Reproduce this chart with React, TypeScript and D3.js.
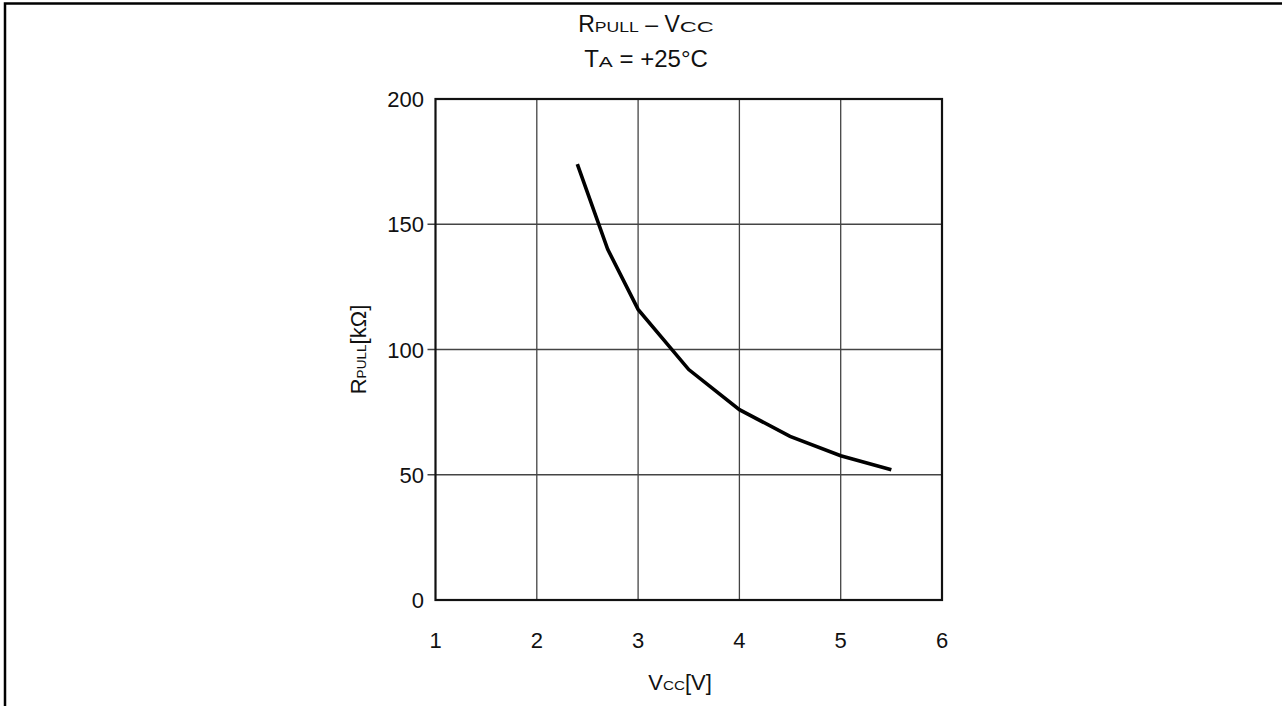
import React from "react";
import * as d3 from "d3";

const vcc = [2.4, 2.7, 3.0, 3.5, 4.0, 4.5, 5.0, 5.5];
const rpull = [174, 140, 116, 92, 76, 65.3, 57.6, 52];
const xTicks = [1, 2, 3, 4, 5, 6];
const yTicks = [0, 50, 100, 150, 200];

const W = 1282;
const H = 706;
const FONT = "'Liberation Sans', Arial, Helvetica, sans-serif";

export default function App() {
  const x = d3.scaleLinear().domain([1, 6]).range([435.5, 942]);
  const y = d3.scaleLinear().domain([0, 200]).range([600, 99]);
  const pts: [number, number][] = vcc.map((v, i) => [v, rpull[i]]);
  const line = d3
    .line<[number, number]>()
    .x((d) => x(d[0]))
    .y((d) => y(d[1]));

  const big = 22;
  const small = 13;

  return (
    <svg
      width={W}
      height={H}
      style={{ position: "absolute", left: 0, top: 0, background: "#fff" }}
      fontFamily={FONT}
    >
      {/* outer frame (top + left) */}
      <path d={`M5,${H} V3.5 H${W}`} fill="none" stroke="#000" strokeWidth={2.5} />

      {/* title */}
      <text x={646} y={32} textAnchor="middle" fontSize={23} fill="#111">
        <tspan>R</tspan>
        <tspan fontSize={14} textLength={44} lengthAdjust="spacingAndGlyphs">PULL</tspan>
        <tspan> – V</tspan>
        <tspan fontSize={14} textLength={34} lengthAdjust="spacingAndGlyphs">CC</tspan>
      </text>
      <text x={646} y={67} textAnchor="middle" fontSize={24} fill="#111">
        <tspan>T</tspan>
        <tspan fontSize={15} textLength={14} lengthAdjust="spacingAndGlyphs">A</tspan>
        <tspan> = +25°C</tspan>
      </text>

      {/* grid */}
      {xTicks.slice(1, -1).map((t) => (
        <line key={"gx" + t} x1={x(t)} x2={x(t)} y1={y(0)} y2={y(200)} stroke="#444" strokeWidth={1.3} />
      ))}
      {yTicks.slice(1, -1).map((t) => (
        <line key={"gy" + t} x1={x(1) - 8} x2={x(6)} y1={y(t)} y2={y(t)} stroke="#444" strokeWidth={1.3} />
      ))}

      {/* plot frame */}
      <rect
        x={x(1)}
        y={y(200)}
        width={x(6) - x(1)}
        height={y(0) - y(200)}
        fill="none"
        stroke="#111"
        strokeWidth={2.2}
      />

      {/* curve */}
      <path d={line(pts) || ""} fill="none" stroke="#000" strokeWidth={3.6} strokeLinejoin="miter" />

      {/* x tick labels */}
      {xTicks.map((t) => (
        <text key={"xt" + t} x={x(t)} y={648} textAnchor="middle" fontSize={big} fill="#111">
          {t}
        </text>
      ))}
      {/* y tick labels */}
      {yTicks.map((t) => (
        <text key={"yt" + t} x={424} y={y(t) + 8} textAnchor="end" fontSize={big} fill="#111">
          {t}
        </text>
      ))}

      {/* x axis title */}
      <text x={680} y={690} textAnchor="middle" fontSize={big} fill="#111">
        <tspan>V</tspan>
        <tspan fontSize={small} textLength={22} lengthAdjust="spacingAndGlyphs">CC</tspan>
        <tspan>[V]</tspan>
      </text>

      {/* y axis title */}
      <text
        transform={`translate(366, ${y(100)}) rotate(-90)`}
        textAnchor="middle"
        fontSize={big}
        fill="#111"
      >
        <tspan>R</tspan>
        <tspan fontSize={small} textLength={34} lengthAdjust="spacingAndGlyphs">PULL</tspan>
        <tspan>[kΩ]</tspan>
      </text>
    </svg>
  );
}
